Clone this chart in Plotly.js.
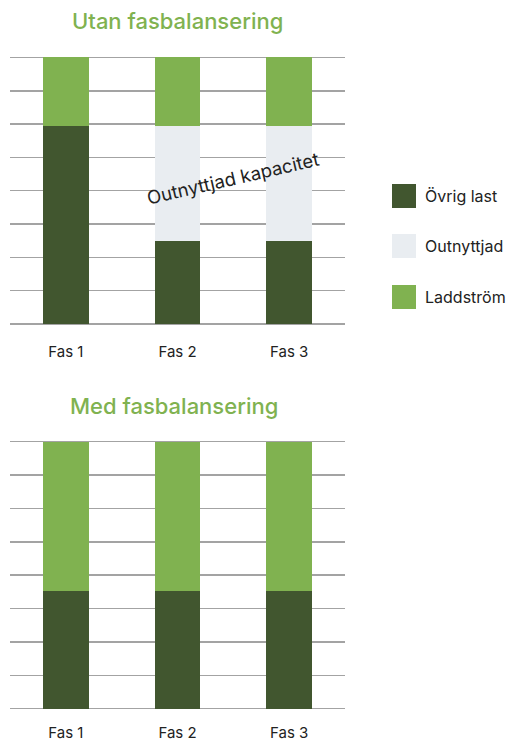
<!DOCTYPE html>
<html>
<head>
<meta charset="utf-8">
<script src="https://cdn.plot.ly/plotly-3.0.1.min.js"></script>
<style>html,body{margin:0;padding:0;background:#fff;}#chart{width:508px;height:744px;}</style>
</head>
<body>
<div id="chart"></div>
<script>
// ---- data ----
var categories = ['Fas 1', 'Fas 2', 'Fas 3'];
var seriesNames = ['Övrig last', 'Outnyttjad', 'Laddström'];
var titles = ['Utan fasbalansering', 'Med fasbalansering'];
var annotationText = 'Outnyttjad kapacitet';

var utanOvrig = [5.94, 2.5, 2.5];
var utanOutnyttjad = [0, 3.44, 3.44];
var utanLadd = [2.06, 2.06, 2.06];

var medOvrig = [3.54, 3.54, 3.54];
var medOutnyttjad = [0, 0, 0];
var medLadd = [4.46, 4.46, 4.46];

var colors = ['#41562f', '#e9edf1', '#80b250'];
var FONT = 'Inter, "DejaVu Sans", sans-serif';

function bar(x, y, i, xa, ya) {
  return {type: 'bar', x: x, y: y, name: seriesNames[i], marker: {color: colors[i], line: {width: 0}},
          xaxis: xa, yaxis: ya, showlegend: false, hoverinfo: 'none'};
}

var data = [
  bar(categories, utanOvrig, 0, 'x', 'y'),
  bar(categories, utanOutnyttjad, 1, 'x', 'y'),
  bar(categories, utanLadd, 2, 'x', 'y'),
  bar(categories, medOvrig, 0, 'x2', 'y2'),
  bar(categories, medOutnyttjad, 1, 'x2', 'y2'),
  bar(categories, medLadd, 2, 'x2', 'y2')
];

var W = 508, H = 744;
function px(v) { return v / W; }
function py(v) { return 1 - v / H; }

var xCommon = {domain: [px(10), px(345)], showgrid: false, zeroline: false, showline: false, ticks: '',
  tickfont: {family: FONT, size: 15, color: '#222'}, fixedrange: true};
var yCommon = {range: [-0.04, 8.04], dtick: 1, showgrid: true, gridcolor: '#a3a3a3', gridwidth: 1.4,
  zeroline: false, showline: false, showticklabels: false, ticks: '', fixedrange: true};

var shapes = [];
var annotations = [];
var legendRows = [196, 246, 297];
for (var i = 0; i < seriesNames.length; i++) {
  shapes.push({type: 'rect', xref: 'paper', yref: 'paper', x0: px(392), x1: px(416),
    y0: py(legendRows[i] - 12), y1: py(legendRows[i] + 12), fillcolor: colors[i], line: {width: 0}});
  annotations.push({xref: 'paper', yref: 'paper', x: px(423), y: py(legendRows[i]), xanchor: 'left', yanchor: 'middle',
    text: seriesNames[i], showarrow: false, font: {family: FONT, size: 16, color: '#222'}});
}
annotations.push({xref: 'paper', yref: 'paper', x: px(177), y: py(21), xanchor: 'center', yanchor: 'middle',
  text: titles[0], showarrow: false, font: {family: FONT, size: 22, color: '#80b250', weight: 500}});
annotations.push({xref: 'paper', yref: 'paper', x: px(174), y: py(406), xanchor: 'center', yanchor: 'middle',
  text: titles[1], showarrow: false, font: {family: FONT, size: 22, color: '#80b250', weight: 500}});
annotations.push({xref: 'x', yref: 'y', x: 1.5, y: utanOvrig[1] + utanOutnyttjad[1] / 2 + 0.15, xanchor: 'center', yanchor: 'middle',
  text: annotationText, showarrow: false, textangle: -13, font: {family: FONT, size: 18.5, color: '#222'}});

// 8 units ~ 266.8 px; 0.04 units ~ 1.33 px of padding on each side
var pad = 0.04 * 266.8 / 8;
var layout = {
  width: W, height: H,
  margin: {l: 0, r: 0, t: 0, b: 0},
  paper_bgcolor: '#fff', plot_bgcolor: 'rgba(0,0,0,0)',
  barmode: 'stack', bargap: 0.59,
  showlegend: false,
  xaxis: Object.assign({}, xCommon, {anchor: 'y', ticklabelstandoff: 16}),
  yaxis: Object.assign({}, yCommon, {domain: [py(324 + pad), py(57.5 - pad)], anchor: 'x'}),
  xaxis2: Object.assign({}, xCommon, {anchor: 'y2', ticklabelstandoff: 12}),
  yaxis2: Object.assign({}, yCommon, {domain: [py(708.7 + pad), py(441.7 - pad)], anchor: 'x2'}),
  shapes: shapes,
  annotations: annotations
};

Plotly.newPlot('chart', data, layout, {displayModeBar: false, staticPlot: true});
</script>
</body>
</html>
